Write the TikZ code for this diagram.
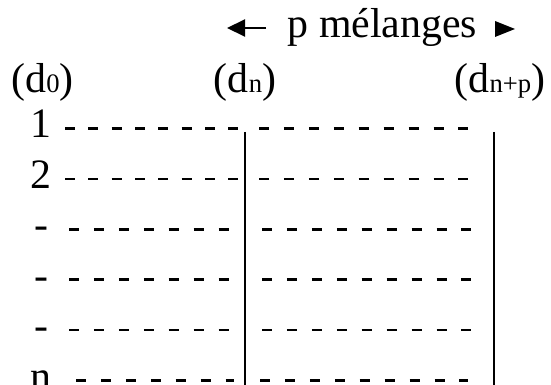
\documentclass[tikz,border=0pt]{standalone}
\usepackage{fontspec}
\setmainfont{Liberation Serif}
\usetikzlibrary{arrows.meta}

\newcommand\smidx[1]{{\fontsize{20}{23}\selectfont #1}}

\begin{document}
\begin{tikzpicture}[
    x=0.75pt, y=-0.75pt,
    lbl/.style={
        inner sep=0pt,
        anchor=base,
        font=\fontsize{31.4}{36}\selectfont
    },
    dashrun/.style={
        line width=1.9pt,
        dash pattern=on 7.5pt off #1
    },
    dashrun/.default=11.2pt,
    bar/.style={
        line width=1.5pt
    }
]

\useasboundingbox (0,0) rectangle (551,385);

% Header
\node[lbl] (title) at (382.5,38) {p mélanges};

\coordinate (arrTail) at (266,28);
\coordinate (arrTip) at (227,28);
\draw[line width=1.5pt, -{Triangle[length=13.5pt,width=12.75pt]}] (arrTail) -- (arrTip);
\fill (495,21) -- (515,29) -- (495,37) -- cycle;

% Columns
\node[lbl] (d0) at (42.5,92.5) {(d\smidx{0})};
\node[lbl] (dn) at (245,92.5) {(d\smidx{n})};
\node[lbl] (dnp) at (500,92.5) {(d\smidx{n+p})};

% Rows
\foreach \t [count=\i] in {1,2,-,-,-,n}
    \node[lbl] (r\i) at (41,{138+50.4*(\i-1)}) {\t};

\foreach \i/\xa/\xb/\off in {1/65/238/10pt, 2/65/238/10pt, 3/69/229/11.2pt,
                             4/69/229/11.2pt, 5/69/229/11.2pt, 6/76/234/11.2pt}
    \draw[dashrun=\off] (\xa,{128.5+50.4*(\i-1)}) -- (\xb,{128.5+50.4*(\i-1)});

\foreach \i/\xa/\xb in {1/259/468, 2/259/468, 3/262/472,
                        4/262/472, 5/262/472, 6/260/468}
    \draw[dashrun] (\xa,{128.5+50.4*(\i-1)}) -- (\xb,{128.5+50.4*(\i-1)});

% Bars
\coordinate (nTop) at (245,132);
\coordinate (nBot) at (245,385);
\coordinate (npTop) at (494,132);
\coordinate (npBot) at (494,385);

\draw[bar] (nTop) -- (nBot);
\draw[bar] (npTop) -- (npBot);

\end{tikzpicture}
\end{document}
